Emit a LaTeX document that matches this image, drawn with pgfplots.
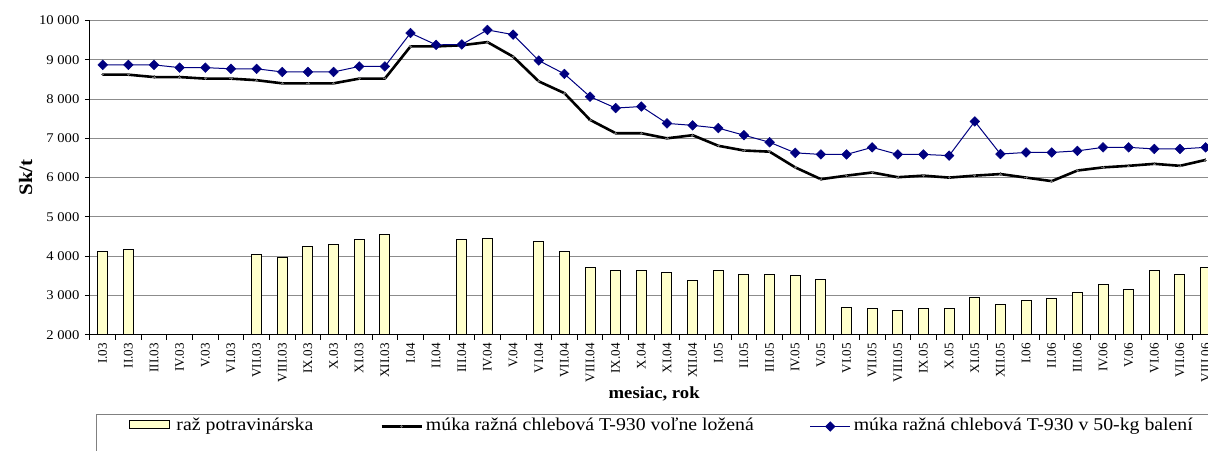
\documentclass[border=0pt]{standalone}
\usepackage{fontspec}
\setmainfont[FakeStretch=1.1]{Liberation Serif}
\newfontfamily\plainfont{Liberation Serif}
\usepackage{pgfplots}
\pgfplotsset{compat=1.18}
\definecolor{barfill}{RGB}{255,255,204}
\definecolor{navyb}{RGB}{0,0,128}
\pgfplotsset{
  lineleg/.style={legend image code/.code={\draw[mark repeat=2,mark phase=2,##1] plot coordinates {(0pt,3.5pt) (20pt,3.5pt) (40pt,3.5pt)};}},
  barleg/.style={legend image code/.code={\draw[fill=barfill, draw=black, line width=1pt] (0pt,2pt) rectangle (40pt,10pt);}},
}
\pgfplotstableread{
x y
0 4130
1 4170
6 4040
7 3960
8 4250
9 4300
10 4420
11 4560
14 4420
15 4460
17 4380
18 4130
19 3710
20 3630
21 3630
22 3580
23 3380
24 3630
25 3540
26 3540
27 3500
28 3410
29 2700
30 2660
31 2610
32 2660
33 2660
34 2950
35 2780
36 2870
37 2910
38 3080
39 3290
40 3160
41 3630
42 3540
43 3710
}\razdata
\pgfplotstableread{
x y
0 8620
1 8620
2 8560
3 8560
4 8520
5 8520
6 8480
7 8400
8 8400
9 8400
10 8520
11 8520
12 9340
13 9340
14 9370
15 9450
16 9080
17 8450
18 8150
19 7470
20 7130
21 7130
22 7000
23 7080
24 6810
25 6690
26 6660
27 6260
28 5960
29 6050
30 6130
31 6010
32 6050
33 6000
34 6050
35 6090
36 6000
37 5910
38 6180
39 6260
40 6300
41 6350
42 6300
43 6450
}\volnedata
\pgfplotstableread{
x y
0 8870
1 8870
2 8870
3 8800
4 8800
5 8770
6 8770
7 8690
8 8690
9 8690
10 8830
11 8830
12 9680
13 9380
14 9390
15 9760
16 9640
17 8980
18 8640
19 8060
20 7770
21 7810
22 7380
23 7330
24 7260
25 7080
26 6900
27 6630
28 6590
29 6590
30 6770
31 6590
32 6590
33 6560
34 7430
35 6600
36 6640
37 6640
38 6680
39 6770
40 6770
41 6730
42 6730
43 6770
}\balenedata
\begin{document}
\begin{tikzpicture}[x=1pt,y=1pt]
\useasboundingbox (0,0) rectangle (1208,450);
\begin{axis}[
  at={(89.9pt,115.3pt)}, anchor=south west,
  scale only axis, width=1128.6pt, height=314.2pt,
  xmin=-0.5, xmax=43.5, ymin=2000, ymax=10000,
  scaled y ticks=false,
  axis x line*=bottom, axis y line*=left,
  axis line style={black, line width=1pt},
  ymajorgrids, grid style={line width=0.9pt, color=black!45},
  ytick={2000,3000,...,10000},
  yticklabels={2 000,3 000,4 000,5 000,6 000,7 000,8 000,9 000,10 000},
  xtick={0,...,43},
  xticklabels={I.03,II.03,III.03,IV.03,V.03,VI.03,VII.03,VIII.03,IX.03,X.03,XI.03,XII.03,
    I.04,II.04,III.04,IV.04,V.04,VI.04,VII.04,VIII.04,IX.04,X.04,XI.04,XII.04,
    I.05,II.05,III.05,IV.05,V.05,VI.05,VII.05,VIII.05,IX.05,X.05,XI.05,XII.05,
    I.06,II.06,III.06,IV.06,V.06,VI.06,VII.06,VIII.06},
  minor xtick={-0.5,0.5,...,43.5},
  tick align=outside, major tick length=5pt, minor tick length=5pt,
  major x tick style={draw=none},
  minor x tick style={black, line width=0.8pt},
  ytick style={black, line width=0.8pt},
  yticklabel style={font=\fontsize{13.3}{15}\selectfont, xshift=-2pt},
  xticklabel style={font=\plainfont\fontsize{13.1}{15}\selectfont, rotate=90, anchor=east},
  xlabel={\bfseries mesiac, rok},
  xlabel style={font=\fontsize{17}{19}\selectfont, yshift=2pt},
  ylabel={\bfseries Sk/t},
  ylabel style={font=\fontsize{19}{21}\selectfont},
  legend columns=3,
  legend style={at={(0.0054,-0.2524)}, anchor=north west,
    draw=black!50, line width=1pt,
    font=\fontsize{18}{20}\selectfont,
    inner xsep=33pt, inner ysep=2pt,
    nodes={inner xsep=3pt, inner ysep=1pt, text depth=24pt, anchor=base west},
    /tikz/column 2/.style={column sep=64pt},
    /tikz/column 4/.style={column sep=53pt}},
]
\addplot[ybar, bar width=0.39, fill=barfill, draw=black, line width=1pt, barleg]
  table[x=x, y=y] {\razdata};
\addlegendentry{\hspace{3pt}raž potravinárska}
\addplot[black, line width=2.6pt, mark=+, mark size=1.6pt,
  mark options={line width=0.6pt, black!60}, lineleg]
  table[x=x, y=y] {\volnedata};
\addlegendentry{múka ražná chlebová T-930 voľne ložená}
\addplot[navyb, line width=1pt, mark=square*, mark size=3.4pt,
  mark options={rotate=45, fill=navyb, line width=0.5pt}, lineleg]
  table[x=x, y=y] {\balenedata};
\addlegendentry{múka ražná chlebová T-930 v 50-kg balení}
\end{axis}
\end{tikzpicture}
\end{document}
